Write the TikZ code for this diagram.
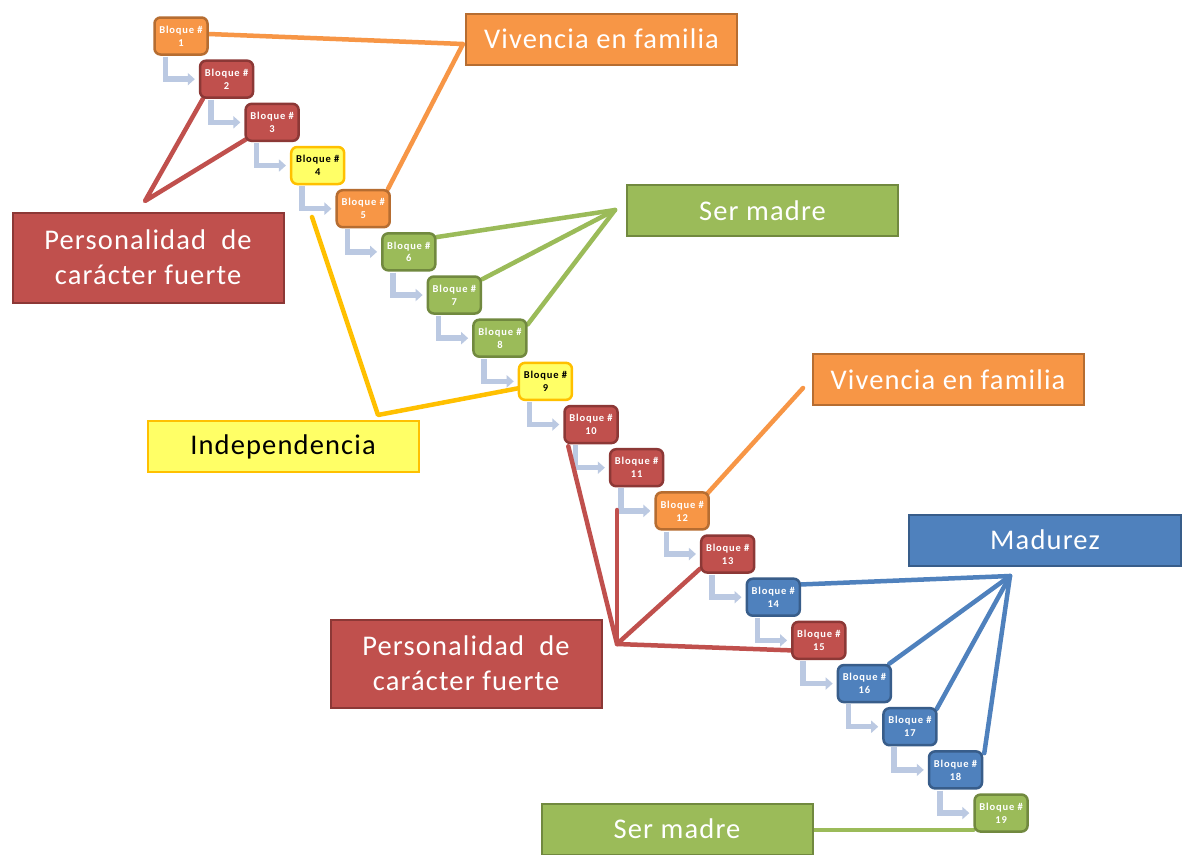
\documentclass[tikz,border=0pt]{standalone}
\usepackage{fontspec}
\setmainfont{Carlito}
\newfontfamily\labfont[LetterSpace=4]{Carlito}
\newfontfamily\blkfont[LetterSpace=8]{Carlito}
\usetikzlibrary{arrows.meta,calc,backgrounds}

\definecolor{orfill}{RGB}{247,150,70}\definecolor{orline}{RGB}{182,109,49}\definecolor{ortext}{RGB}{255,255,255}
\definecolor{rdfill}{RGB}{192,80,77}\definecolor{rdline}{RGB}{140,56,54}\definecolor{rdtext}{RGB}{255,255,255}
\definecolor{gnfill}{RGB}{155,187,89}\definecolor{gnline}{RGB}{113,137,63}\definecolor{gntext}{RGB}{255,255,255}
\definecolor{blfill}{RGB}{79,129,189}\definecolor{blline}{RGB}{56,93,138}\definecolor{bltext}{RGB}{255,255,255}
\definecolor{ylfill}{RGB}{255,255,102}\definecolor{ylline}{RGB}{255,192,0}\definecolor{yltext}{RGB}{0,0,0}
\definecolor{flowc}{RGB}{187,201,226}
\definecolor{yconn}{RGB}{255,192,0}

\tikzset{
  blk/.style={draw=#1line, fill=#1fill, text=#1text, rounded corners=6pt, line width=2.5pt,
    minimum width=53pt, minimum height=37pt, inner sep=0pt, align=center,
    font=\blkfont\bfseries\fontsize{10.5}{13}\selectfont},
  lab/.style={draw=#1line, fill=#1fill, text=#1text, line width=2pt,
    minimum width=271pt, minimum height=51pt, inner sep=0pt, align=center,
    font=\labfont\fontsize{28.5}{35}\selectfont},
  flow/.style={draw=flowc, line width=5.5pt, -{Triangle[width=12pt,length=7pt]}},
  conn/.style={draw=#1, line width=4.5pt, line join=round, line cap=round}
}

\begin{document}
\begin{tikzpicture}[x=1pt,y=-1pt]
\useasboundingbox (0,0) rectangle (1183,854);

% blocks
\foreach \i/\c in {1/or,2/rd,3/rd,4/yl,5/or,6/gn,7/gn,8/gn,9/yl,10/rd,11/rd,12/or,13/rd,14/bl,15/rd,16/bl,17/bl,18/bl,19/gn}{
  \node[blk=\c] (b\i) at ({181+(\i-1)*45.56},{36+(\i-1)*43.17}) {Bloque \#\\\i};
}

% labels
\node[lab=or] (vf1) at (601.5,39) {Vivencia en familia};
\node[lab=gn] (sm1) at (762.5,210.5) {Ser madre};
\node[lab=rd, minimum height=90pt] (pc1) at (148,257.5) {Personalidad\ \ de\\carácter fuerte};
\node[lab=yl] (ind) at (283,446.5) {Independencia};
\node[lab=or] (vf2) at (948,379.5) {Vivencia en familia};
\node[lab=bl, minimum width=272pt] (mad) at (1045,540) {Madurez};
\node[lab=rd, minimum height=88pt] (pc2) at (466,663.5) {Personalidad\ \ de\\carácter fuerte};
\node[lab=gn] (sm2) at (677,829) {Ser madre};

% junction coordinates
\coordinate (jo1) at (463,44);
\coordinate (jr1) at (145,201);
\coordinate (jy0) at (312,217);
\coordinate (jy1) at (378,415);
\coordinate (jg1) at (615,210);
\coordinate (jo2) at (803,388);
\coordinate (jr2) at (617,644);
\coordinate (jr2t) at (617,510);
\coordinate (jb1) at (1010,576);

\begin{scope}[on background layer]
  \fill[white] (0,0) rectangle (1183,854);
  % flow arrows
  \foreach \i [evaluate=\i as \j using int(\i+1)] in {1,...,18}{
    \draw[flow] ([xshift=12pt,yshift=-1pt]b\i.south west) |- ([xshift=-4pt]b\j.west);
  }
  % orange 1
  \draw[conn=orfill] ([yshift=2pt]b1.east) -- (jo1) -- ([xshift=-3pt]b5.north east);
  % red 1
  \draw[conn=rdfill] ([xshift=4pt]b2.south west) -- (jr1) -- ([xshift=2pt,yshift=3pt]b3.south west);
  % yellow
  \draw[conn=yconn] (jy0) -- (jy1) -- ([yshift=-7pt]b9.west);
  % green 1
  \draw[conn=gnfill] ([yshift=-5pt]b6.north east) -- (jg1);
  \draw[conn=gnfill] ([yshift=-4pt]b7.north east) -- (jg1);
  \draw[conn=gnfill] ([yshift=-6pt]b8.north east) -- (jg1);
  % orange 2
  \draw[conn=orfill] ([xshift=-4pt,yshift=-4pt]b12.north east) -- (jo2);
  % red 2
  \draw[conn=rdfill] ([xshift=5pt,yshift=-2pt]b10.south west) -- (jr2);
  \draw[conn=rdfill] (jr2t) -- (jr2);
  \draw[conn=rdfill] ([yshift=5pt]b13.south west) -- (jr2) -- ([yshift=-10pt]b15.west);
  % blue
  \draw[conn=blfill] ([yshift=-7pt]b14.north east) -- (jb1);
  \draw[conn=blfill] ([xshift=-3pt]b16.north east) -- (jb1);
  \draw[conn=blfill] ([xshift=-1pt,yshift=-2pt]b17.north east) -- (jb1);
  \draw[conn=blfill] ([xshift=1pt,yshift=-3pt]b18.north east) -- (jb1);
  % green 2
  \draw[conn=gnfill] ([yshift=-1pt]sm2.east) -- ([yshift=-1pt]sm2.east -| b19.west);
\end{scope}
\end{tikzpicture}
\end{document}
